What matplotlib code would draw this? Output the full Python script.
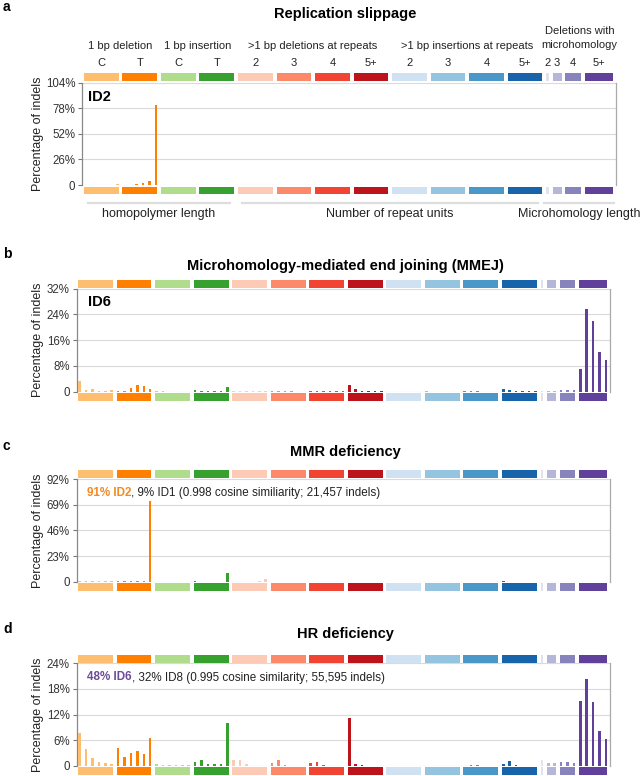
import matplotlib
matplotlib.use('Agg')
import matplotlib.pyplot as plt
from matplotlib.lines import Line2D
from matplotlib.transforms import blended_transform_factory
import numpy as np

W, H = 642, 776
plt.rcParams['font.family'] = ['Liberation Sans', 'DejaVu Sans']

# ID83 channel groups
group_sizes = [6, 6, 6, 6, 6, 6, 6, 6, 6, 6, 6, 6, 1, 2, 3, 5]
group_labels = ['C', 'T', 'C', 'T', '2', '3', '4', '5+', '2', '3', '4', '5+', '2', '3', '4', '5+']
group_colors = ['#FDBE6F', '#FF8001', '#B0DD8B', '#36A12E',
                '#FDCAB5', '#FC8A6A', '#F14432', '#BC141A',
                '#D0E1F2', '#94C4DF', '#4A98C9', '#1764AB',
                '#E2E2EF', '#B6B6D8', '#8683BD', '#61409B']
header_labels = ['1 bp deletion', '1 bp insertion', '>1 bp deletions at repeats',
                 '>1 bp insertions at repeats', 'Deletions with\nmicrohomology']
header_groups = [(0, 2), (2, 4), (4, 8), (8, 12), (12, 16)]
bottom_labels = ['homopolymer length', 'Number of repeat units', 'Microhomology length']
bottom_groups = [(0, 4), (4, 12), (12, 16)]

# percentages, one row per group
id2 = [0.2, 0.2, 0.2, 0.3, 0.4, 0.7,
       0.5, 0.2, 0.6, 1.6, 4.5, 81.8,
       0.1, 0.1, 0.1, 0.1, 0.1, 0.1,
       0.2, 0.2, 0.2, 0.2, 0.2, 0.3,
       0.2, 0.1, 0.1, 0.1, 0.1, 0.1,
       0.2, 0.1, 0.1, 0.1, 0.1, 0.1,
       0.2, 0.1, 0.1, 0.1, 0.1, 0.1,
       0.2, 0.1, 0.1, 0.1, 0.1, 0.1,
       0.1, 0.1, 0.1, 0.1, 0.1, 0.1,
       0.1, 0.1, 0.1, 0.1, 0.1, 0.1,
       0.1, 0.1, 0.1, 0.1, 0.1, 0.1,
       0.1, 0.1, 0.1, 0.1, 0.1, 0.1,
       0.1,
       0.1, 0.1,
       0.1, 0.1, 0.1,
       0.1, 0.1, 0.1, 0.1, 0.1]
id6 = [3.2, 0.6, 0.7, 0.2, 0.2, 0.4,
       0.3, 0.2, 1.1, 2.2, 1.8, 0.9,
       0.1, 0.1, 0.05, 0.05, 0.05, 0.05,
       0.5, 0.3, 0.3, 0.3, 0.3, 1.6,
       0.1, 0.1, 0.1, 0.1, 0.1, 0.1,
       0.1, 0.1, 0.3, 0.1, 0.05, 0.05,
       0.1, 0.3, 0.2, 0.1, 0.1, 0.1,
       2.0, 0.8, 0.2, 0.2, 0.1, 0.1,
       0.05, 0.05, 0.05, 0.05, 0.05, 0.05,
       0.1, 0.05, 0.05, 0.05, 0.05, 0.05,
       0.1, 0.1, 0.1, 0.05, 0.05, 0.05,
       0.8, 0.5, 0.3, 0.2, 0.1, 0.1,
       0.1,
       0.3, 0.3,
       0.5, 0.6, 0.4,
       7.1, 25.5, 21.9, 12.2, 9.9]
mmr = [0.2, 0.2, 0.3, 0.6, 0.3, 0.6,
       0.3, 0.3, 0.3, 0.5, 0.9, 72.0,
       0.1, 0.1, 0.1, 0.1, 0.1, 0.1,
       0.2, 0.1, 0.1, 0.1, 0.1, 8.0,
       0.1, 0.1, 0.1, 0.1, 0.2, 2.8,
       0.1, 0.1, 0.1, 0.1, 0.1, 0.1,
       0.1, 0.1, 0.1, 0.1, 0.1, 0.1,
       0.1, 0.1, 0.1, 0.1, 0.1, 0.1,
       0.05, 0.05, 0.05, 0.05, 0.05, 0.05,
       0.05, 0.05, 0.05, 0.05, 0.05, 0.05,
       0.05, 0.05, 0.05, 0.05, 0.05, 0.05,
       0.6, 0.1, 0.1, 0.05, 0.05, 0.05,
       0.05,
       0.05, 0.05,
       0.05, 0.05, 0.05,
       0.05, 0.05, 0.05, 0.05, 0.05]
hrd = [7.8, 3.9, 1.8, 0.9, 0.6, 0.5,
       4.2, 2.2, 3.0, 3.5, 2.7, 6.6,
       0.5, 0.3, 0.2, 0.15, 0.15, 0.2,
       0.9, 1.3, 0.5, 0.4, 0.45, 10.0,
       1.3, 1.4, 0.5, 0.1, 0.1, 0.1,
       0.7, 1.3, 0.3, 0.1, 0.1, 0.1,
       0.6, 1.0, 0.3, 0.1, 0.1, 0.1,
       11.3, 0.5, 0.2, 0.1, 0.1, 0.1,
       0.1, 0.1, 0.1, 0.05, 0.05, 0.05,
       0.1, 0.1, 0.1, 0.1, 0.05, 0.05,
       0.1, 0.2, 0.3, 0.1, 0.1, 0.1,
       0.5, 1.2, 0.2, 0.1, 0.1, 0.1,
       1.3,
       0.6, 0.8,
       0.9, 0.9, 0.8,
       15.2, 20.2, 14.9, 8.2, 6.4]

ymax_list = [104, 32, 92, 24]

starts = np.concatenate([[0], np.cumsum(group_sizes)[:-1]])
ends = starts + np.array(group_sizes)
chan_colors = np.repeat(group_colors, group_sizes)
x = np.arange(sum(group_sizes))
GAP = 0.6
XLIM = (-0.45, 82.62)

fig = plt.figure(figsize=(W / 100, H / 100), dpi=100)


def px_axes(left, top, right, bottom):
    return fig.add_axes([left / W, 1 - bottom / H, (right - left) / W, (bottom - top) / H])


def strip(left, right, top, bottom):
    sa = px_axes(left, top, right, bottom)
    widths = np.array(group_sizes) - GAP
    widths[12] = 0.4
    sa.bar(starts + (np.array(group_sizes) - 1) / 2, 1, width=widths,
           color=group_colors, bottom=0)
    sa.set_xlim(*XLIM)
    sa.set_ylim(0, 1)
    sa.axis('off')
    return sa


def panel(vals, ymax, left, right, top, base, stop, sbot, btop, bbot):
    ax = px_axes(left, top, right, base)
    ax.bar(x, vals, width=0.4, color=chan_colors, zorder=3)
    ax.set_xlim(*XLIM)
    ax.set_ylim(0, ymax)
    ticks = np.linspace(0, ymax, 5)
    ax.set_yticks(ticks)
    ax.set_yticklabels(['0'] + ['%d%%' % t for t in ticks[1:]], fontsize=8.3, color='#333333')
    ax.set_xticks([])
    ax.grid(axis='y', color='#dadada', lw=0.8, zorder=0)
    ax.tick_params(axis='y', length=3, width=0.8, color='#777777', pad=2)
    for s in ['top', 'bottom']:
        ax.spines[s].set_visible(False)
    ax.spines['left'].set_color('#888888')
    ax.spines['right'].set_color('#aaaaaa')
    ax.spines['left'].set_linewidth(0.9)
    ax.spines['right'].set_linewidth(0.9)
    strip(left, right, stop, sbot)
    strip(left, right, btop, bbot)
    fig.text(38 / W, 1 - (top + base) / 2 / H, 'Percentage of indels', rotation=90,
             ha='center', va='center', fontsize=9, color='#222222')
    return ax


def ftext(xp, yp, s, **kw):
    return fig.text(xp / W, 1 - yp / H, s, **kw)


# panel a
ax_a = panel(id2, ymax_list[0], 82.3, 615.6, 82.7, 185.0, 72.5, 80.5, 186.7, 194.3)
ftext(3, 7, 'a', fontsize=10, fontweight='bold', va='center')
ftext(345, 14, 'Replication slippage', fontsize=10.5, fontweight='bold', ha='center', va='center')
ftext(88, 97, 'ID2', fontsize=10.5, fontweight='bold', va='center')

tr = blended_transform_factory(ax_a.transData, fig.transFigure)
for lab, (g0, g1) in zip(group_labels, zip(starts, ends)):
    ax_a.text((g0 + g1 - 1) / 2, 1 - 63 / H, lab, transform=tr, ha='center', va='center',
              fontsize=8, color='#222222')
for lab, (a, b) in zip(header_labels, header_groups):
    cx = (starts[a] + ends[b - 1] - 1) / 2
    yy = 38 if '\n' in lab else 46
    ax_a.text(cx, 1 - yy / H, lab, transform=tr, ha='center', va='center', fontsize=8,
              color='#222222', linespacing=1.45)
for lab, (a, b) in zip(bottom_labels, bottom_groups):
    x0 = starts[a] - 0.2 + 0.6
    x1 = ends[b - 1] - 1 + 0.2 - 0.6
    if a == 12:
        x0, x1 = starts[a] - 0.6, ends[b - 1] - 0.6
    ax_a.add_line(Line2D([x0, x1], [1 - 202.7 / H] * 2, transform=tr, color='#dddddd',
                         lw=1.6, clip_on=False))
    ax_a.text((x0 + x1) / 2, 1 - 214 / H, lab, transform=tr, ha='center', va='center',
              fontsize=9, color='#222222')

# panel b
ax_b = panel(id6, ymax_list[1], 76.7, 610.0, 288.5, 391.7, 280.0, 287.7, 392.7, 400.7)
ftext(3, 254, 'b', fontsize=10, fontweight='bold', va='center')
ftext(345, 266, 'Microhomology-mediated end joining (MMEJ)', fontsize=10.5, fontweight='bold',
      ha='center', va='center')
ftext(87.7, 302, 'ID6', fontsize=10.5, fontweight='bold', va='center')

# panel c
ax_c = panel(mmr, ymax_list[2], 76.7, 610.0, 479.0, 581.7, 470.0, 477.7, 583.3, 590.7)
ftext(3, 446, 'c', fontsize=10, fontweight='bold', va='center')
ftext(345, 452, 'MMR deficiency', fontsize=10.5, fontweight='bold', ha='center', va='center')
t1 = ftext(86.7, 493, '91% ID2', fontsize=8.4, fontweight='bold', color='#F28A22', va='center')
ax_c.annotate(', 9% ID1 (0.998 cosine similiarity; 21,457 indels)', xy=(1, 0), xycoords=t1,
              ha='left', va='bottom', fontsize=8.4, color='#222222')

# panel d
ax_d = panel(hrd, ymax_list[3], 76.7, 610.0, 663.0, 766.0, 655.0, 662.7, 767.3, 775.0)
ftext(3, 629, 'd', fontsize=10, fontweight='bold', va='center')
ftext(345, 634, 'HR deficiency', fontsize=10.5, fontweight='bold', ha='center', va='center')
t2 = ftext(87.3, 677.5, '48% ID6', fontsize=8.4, fontweight='bold', color='#6B4C9A', va='center')
ax_d.annotate(', 32% ID8 (0.995 cosine similarity; 55,595 indels)', xy=(1, 0), xycoords=t2,
              ha='left', va='bottom', fontsize=8.4, color='#222222')

fig.savefig('out.png', dpi=100)
